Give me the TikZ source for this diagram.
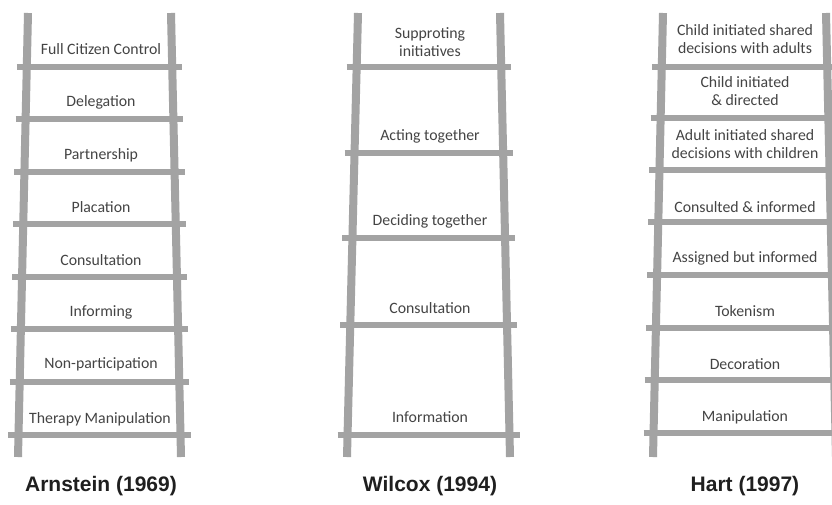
\documentclass[tikz,border=0pt]{standalone}
\usepackage{fontspec}
\setmainfont{Carlito}
\newfontfamily\titlefont{Liberation Sans}
\usetikzlibrary{calc}
\definecolor{railgray}{RGB}{163,163,163}
\definecolor{labelgray}{RGB}{68,68,68}
\begin{document}
\begin{tikzpicture}[x=1pt, y=-1pt]
% Estilos
\tikzstyle{rail} = [railgray, line width=8pt]
\tikzstyle{rung} = [railgray, line width=6.5pt, shorten <=-10pt, shorten >=-10pt]
\tikzstyle{step label} = [text=labelgray, align=center, font=\fontsize{15.8}{18.5}\selectfont]
\tikzstyle{ladder title} = [text=black!88, font=\titlefont\bfseries\fontsize{21}{24}\selectfont]

\clip (0,0) rectangle (832,504);
\fill[white] (0,0) rectangle (832,504);

% Escalera de Arnstein
\coordinate (al1) at (28,13);  \coordinate (al2) at (18,457);
\coordinate (ar1) at (171,13); \coordinate (ar2) at (181,457);
\foreach \y in {67,119,172,224,277,329,382,435}
    \draw[rung] ($(al1)!{(\y-13)/444}!(al2)$) -- ($(ar1)!{(\y-13)/444}!(ar2)$);
\draw[rail] (al1) -- (al2);
\draw[rail] (ar1) -- (ar2);

\node[step label] (fullcontrol) at (101,49) {Full Citizen Control};
\node[step label] (delegation) at (101,102) {Delegation};
\node[step label] (partnership) at (101,155) {Partnership};
\node[step label] (placation) at (101,207) {Placation};
\node[step label] (consultA) at (101,260) {Consultation};
\node[step label] (informing) at (101,312) {Informing};
\node[step label] (nonpart) at (101,364) {Non-participation};
\node[step label] (therapy) at (100,419) {Therapy Manipulation};
\node[ladder title] (arnstein) at (101,486) {Arnstein (1969)};

% Escalera de Wilcox
\coordinate (wl1) at (358,13); \coordinate (wl2) at (347,457);
\coordinate (wr1) at (500,13); \coordinate (wr2) at (510,457);
\foreach \y in {67,153,238,325,435}
    \draw[rung] ($(wl1)!{(\y-13)/444}!(wl2)$) -- ($(wr1)!{(\y-13)/444}!(wr2)$);
\draw[rail] (wl1) -- (wl2);
\draw[rail] (wr1) -- (wr2);

\node[step label] (supporting) at (430,42) {Supproting\\initiatives};
\node[step label] (acting) at (430,136) {Acting together};
\node[step label] (deciding) at (430,221) {Deciding together};
\node[step label] (consultW) at (430,308) {Consultation};
\node[step label] (information) at (430,417) {Information};
\node[ladder title] (wilcox) at (430,486) {Wilcox (1994)};

% Escalera de Hart
\coordinate (hl1) at (663,13); \coordinate (hl2) at (653,457);
\coordinate (hr1) at (826,13); \coordinate (hr2) at (836,457);
\foreach \y in {67,118,170,222,275,328,380,433}
    \draw[rung] ($(hl1)!{(\y-13)/444}!(hl2)$) -- ($(hr1)!{(\y-13)/444}!(hr2)$);
\draw[rail] (hl1) -- (hl2);
\draw[rail] (hr1) -- (hr2);

\node[step label] (childshared) at (745,39) {Child initiated shared\\decisions with adults};
\node[step label] (childdirected) at (745,91) {Child initiated\\\& directed};
\node[step label] (adultshared) at (745,144) {Adult initiated shared\\decisions with children};
\node[step label] (consulted) at (745,207) {Consulted \& informed};
\node[step label] (assigned) at (745,258) {Assigned but informed};
\node[step label] (tokenism) at (745,311) {Tokenism};
\node[step label] (decoration) at (745,364) {Decoration};
\node[step label] (manipulation) at (745,417) {Manipulation};
\node[ladder title] (hart) at (745,486) {Hart (1997)};
\end{tikzpicture}
\end{document}
